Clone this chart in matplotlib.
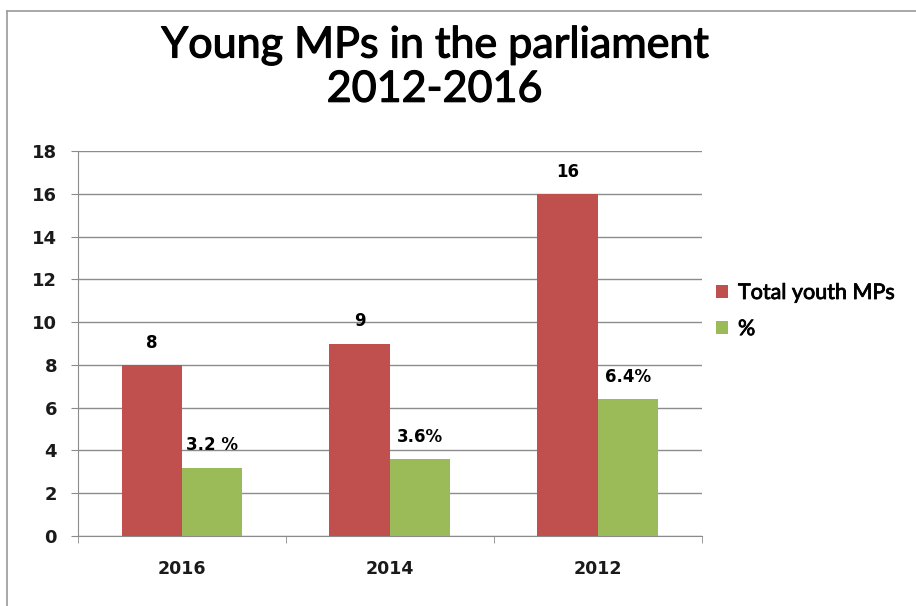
import matplotlib
matplotlib.use("Agg")
import matplotlib.pyplot as plt
import matplotlib.patheffects as pe
import numpy as np
from matplotlib.lines import Line2D

years = ["2016", "2014", "2012"]
total_youth = [8, 9, 16]
percent = [3.2, 3.6, 6.4]
percent_labels = ["3.2 %", "3.6%", "6.4%"]
series_names = ["Total youth MPs", "%"]
yticks = [0, 2, 4, 6, 8, 10, 12, 14, 16, 18]

RED = "#C0504D"
GREEN = "#9BBB59"
GRID = "#8C8C8C"

fig = plt.figure(figsize=(9.16, 6.06), dpi=100)
ax = fig.add_axes([0.085, 0.1155, 0.681, 0.6353])

x = np.arange(len(years))
w = 0.29
b1 = ax.bar(x - w / 2, total_youth, w, color=RED, label=series_names[0], zorder=3)
b2 = ax.bar(x + w / 2, percent, w, color=GREEN, label=series_names[1], zorder=3)

ax.set_xlim(-0.5, 2.5)
ax.set_ylim(0, 18)
ax.set_yticks(yticks)
ax.set_yticklabels([str(t) for t in yticks], fontsize=13, fontweight="bold",
                   fontfamily="DejaVu Sans", color="#1a1a1a")
ax.set_xticks(x)
ax.set_xticklabels(years, fontsize=12.5, fontweight="bold",
                   fontfamily="DejaVu Sans", color="#1a1a1a")
ax.set_xticks([-0.5, 0.5, 1.5, 2.5], minor=True)
ax.tick_params(axis="x", which="major", length=0, pad=17)
ax.tick_params(axis="x", which="minor", length=5, color=GRID, direction="out")
ax.tick_params(axis="y", length=5, color=GRID, direction="out", pad=10)

ax.grid(axis="y", color=GRID, linewidth=1, zorder=0)
for s in ["top", "right"]:
    ax.spines[s].set_visible(False)
for s in ["left", "bottom"]:
    ax.spines[s].set_color(GRID)

for rect, v in zip(b1, total_youth):
    ax.annotate(str(v), (rect.get_x() + rect.get_width() / 2, v), xytext=(0, 16),
                textcoords="offset points", ha="center", va="center",
                fontsize=12, fontweight="bold", fontfamily="DejaVu Sans")
for rect, v, lab in zip(b2, percent, percent_labels):
    ax.annotate(lab, (rect.get_x() + rect.get_width() / 2, v), xytext=(0, 16),
                textcoords="offset points", ha="center", va="center",
                fontsize=12, fontweight="bold", fontfamily="DejaVu Sans")

thick = [pe.withStroke(linewidth=0.9, foreground="black")]
fig.text(0.474, 0.925, "Young MPs in the parliament", ha="center", va="center",
         fontsize=31, fontfamily="Lato", path_effects=thick)
fig.text(0.474, 0.852, "2012-2016", ha="center", va="center",
         fontsize=31, fontfamily="Lato", path_effects=thick)

leg = fig.legend(handles=[b1, b2], labels=series_names, loc="upper left",
                 bbox_to_anchor=(0.761, 0.565), frameon=False,
                 handlelength=0.55, handleheight=0.55, handletextpad=0.45,
                 labelspacing=0.75, prop={"family": "Lato", "size": 15.5})
for t in leg.get_texts():
    t.set_path_effects([pe.withStroke(linewidth=0.6, foreground="black")])

# outer chart border (left and top visible)
fig.add_artist(Line2D([0.0076, 0.0076], [0.0, 0.982], transform=fig.transFigure, color="#9A9A9A", lw=1.2))
fig.add_artist(Line2D([0.0076, 1.0], [0.982, 0.982], transform=fig.transFigure, color="#9A9A9A", lw=1.2))

fig.savefig("out.png", dpi=100)
